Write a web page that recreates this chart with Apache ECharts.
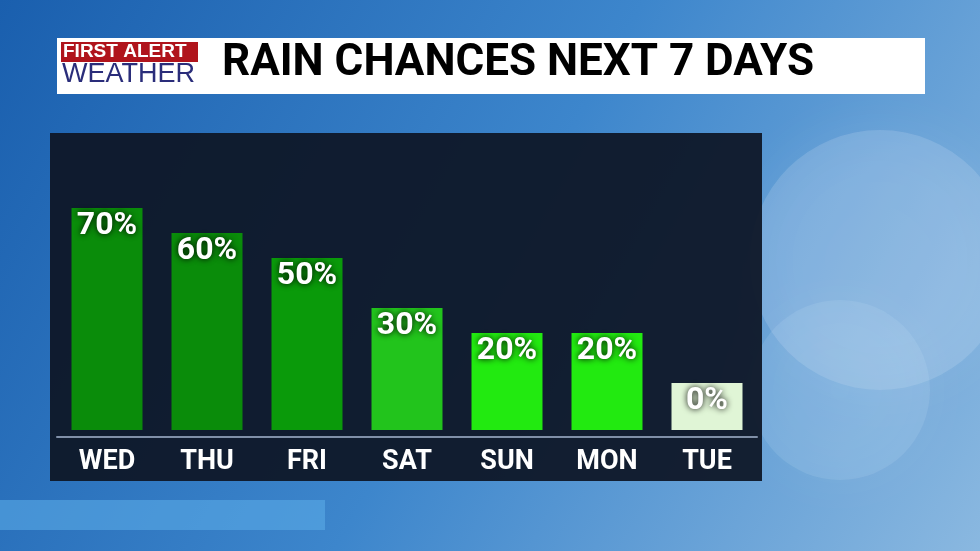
<!DOCTYPE html>
<html><head><meta charset="utf-8">
<script src="https://cdn.jsdelivr.net/npm/echarts@6/dist/echarts.min.js"></script>
<style>html,body{margin:0;padding:0}#c{width:980px;height:551px}</style>
</head><body><div id="c"></div>
<script>
const days = ['WED','THU','FRI','SAT','SUN','MON','TUE'];
const chances = [70,60,50,30,20,20,0];
const barColors = ['#0a8c0a','#0a8c0a','#0a9a0a','#22c41c','#22ea10','#22ea10','#e0f5d6'];
const baseOffset = 18.8; // visual stub so 0% still shows a box
const chart = echarts.init(document.getElementById('c'));
chart.setOption({
  backgroundColor: {type:'linear',x:0,y:0,x2:1,y2:1,colorStops:[{offset:0,color:'#1a5fae'},{offset:0.5,color:'#3d86cc'},{offset:1,color:'#8ab8e0'}]},
  graphic: [
    {type:'circle',shape:{cx:880,cy:260,r:130},style:{fill:'rgba(220,235,250,0.18)',shadowBlur:60,shadowColor:'rgba(255,255,255,0.5)'},z:-5},
    {type:'circle',shape:{cx:840,cy:390,r:90},style:{fill:'rgba(200,225,245,0.15)',shadowBlur:60,shadowColor:'rgba(255,255,255,0.4)'},z:-5},
    {type:'rect',shape:{x:0,y:500,width:325,height:30},style:{fill:'rgba(90,170,230,0.6)'},z:-5},
    {type:'rect',shape:{x:57,y:38,width:868,height:56},style:{fill:'#ffffff'}},
    {type:'rect',shape:{x:61,y:42,width:137,height:20},style:{fill:'#b0141c'}},
    {type:'text',left:63,top:42,style:{text:'FIRST ALERT',fill:'#fff',font:'bold 19px "Liberation Sans"'}},
    {type:'text',left:62,top:61,style:{text:'WEATHER',fill:'#2a2d7a',font:'27px "Liberation Sans"'}},
    {type:'text',left:222,top:42,style:{text:'RAIN CHANCES NEXT 7 DAYS',fill:'#000',font:'bold 44px "Roboto"'}},
    {type:'rect',shape:{x:50,y:133,width:712,height:348},style:{fill:'rgba(14,22,38,0.94)'},z:-1}
  ],
  grid: {left:57, right:223, top:133, bottom:121},
  xAxis: {type:'category', data:days, offset:7,
    axisLine:{onZero:false,lineStyle:{color:'#8090a8',width:2}}, axisTick:{show:false},
    axisLabel:{color:'#fff', fontSize:27, fontWeight:'bold', fontFamily:'Roboto', margin:12}},
  yAxis: {type:'value', min:0, max:118.8, show:false, splitLine:{show:false}},
  series: [
    {type:'bar', stack:'s', barWidth:71, data: days.map(()=>baseOffset),
     itemStyle:{color:(p)=>barColors[p.dataIndex]}, silent:true},
    {type:'bar', stack:'s', barWidth:71,
    data: chances.map((v,i)=>({value:v,itemStyle:{color:barColors[i]}})),
    label:{show:true, position:'top', distance:-34, formatter:'{c}%', color:'#fff', fontSize:32, fontWeight:'bold', fontFamily:'Roboto', textShadowColor:'#000', textShadowBlur:6}
  }]
});
</script></body></html>
